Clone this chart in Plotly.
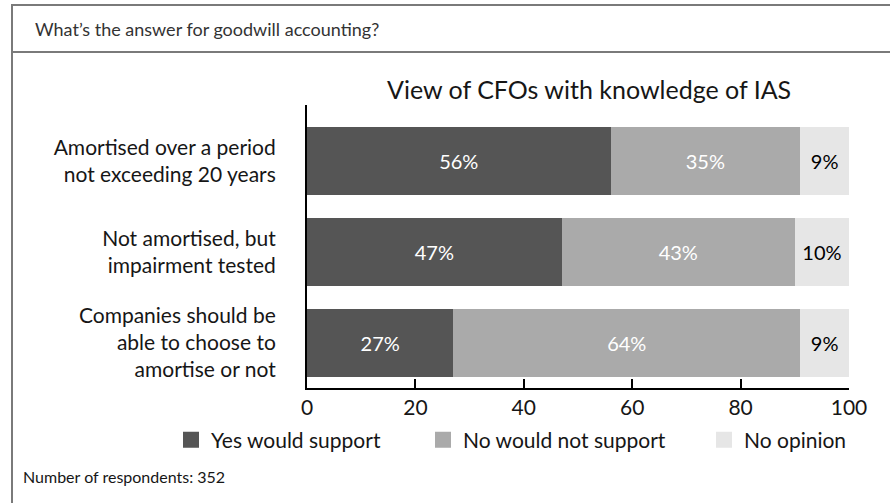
import plotly.graph_objects as go

# Survey answers, top to bottom
categories = [
    "Amortised over a period<br>not exceeding 20 years",
    "Not amortised, but<br>impairment tested",
    "Companies should be<br>able to choose to<br>amortise or not",
]
yes_support = [56, 47, 27]
no_support = [35, 43, 64]
no_opinion = [9, 10, 9]
series_names = ["Yes would support", "No would not support", "No opinion"]
x_ticks = [0, 20, 40, 60, 80, 100]

W, H = 890, 503
L, R, T, B = 307, 41, 105, 115
PW, PH = W - L - R, H - T - B


def px(x):
    return (x - L) / PW


def py(y):
    return 1 - (y - T) / PH


FONT = "Lato, 'Open Sans', sans-serif"
INK = "#161616"

fig = go.Figure()
colors = ["#555555", "#aaaaaa", "#e6e6e6"]
label_colors = ["white", "white", "black"]
legend_ids = ["legend", "legend2", "legend3"]
legend_x = [171, 423, 704]  # left edge of each legend box, in pixels

for name, vals, color, tcol, lid in zip(series_names, [yes_support, no_support, no_opinion],
                                        colors, label_colors, legend_ids):
    fig.add_trace(go.Bar(
        y=categories, x=vals, name=name, orientation="h",
        marker=dict(color=color, line=dict(width=0)),
        width=0.75,
        text=[f"{v}%" for v in vals],
        textposition="inside", insidetextanchor="middle",
        textfont=dict(color=tcol, size=20, family=FONT),
        constraintext="none",
        hoverinfo="skip", showlegend=False, legendgroup=name,
    ))
    # larger square key for the legend
    fig.add_trace(go.Scatter(
        x=[None], y=[None], mode="markers", name=name, legendgroup=name,
        marker=dict(symbol="square", size=16, color=color), legend=lid,
        hoverinfo="skip",
    ))

shapes = [
    # outer frame lines
    dict(type="line", xref="paper", yref="paper", x0=px(11), x1=px(W), y0=py(5), y1=py(5),
         line=dict(color="#7a7a7a", width=2)),
    dict(type="line", xref="paper", yref="paper", x0=px(11), x1=px(W), y0=py(52), y1=py(52),
         line=dict(color="#7a7a7a", width=2)),
    dict(type="line", xref="paper", yref="paper", x0=px(12), x1=px(12), y0=py(4), y1=py(H),
         line=dict(color="#7a7a7a", width=2)),
]

annotations = [
    dict(text="What\u2019s the answer for goodwill accounting?", xref="paper", yref="paper",
         x=px(33), y=py(29), xanchor="left", yanchor="middle", showarrow=False,
         font=dict(size=18, color="#333333", family=FONT)),
    dict(text="View of CFOs with knowledge of IAS", xref="paper", yref="paper",
         x=px(589), y=py(89), xanchor="center", yanchor="middle", showarrow=False,
         font=dict(size=25, color=INK, family=FONT)),
    dict(text="Number of respondents: 352", xref="paper", yref="paper",
         x=px(21), y=py(476), xanchor="left", yanchor="middle", showarrow=False,
         font=dict(size=16, color=INK, family=FONT)),
]

legend_style = dict(orientation="h", yanchor="middle", xanchor="left", y=py(440),
                    font=dict(size=21, family=FONT, color=INK), bgcolor="rgba(0,0,0,0)",
                    itemsizing="trace", itemclick=False, itemdoubleclick=False)

fig.update_layout(
    width=W, height=H,
    margin=dict(l=L, r=R, t=T, b=B, pad=0),
    paper_bgcolor="white", plot_bgcolor="white",
    barmode="stack",
    font=dict(family=FONT, size=20, color=INK),
    showlegend=True,
    legend=dict(x=px(legend_x[0]), **legend_style),
    legend2=dict(x=px(legend_x[1]), **legend_style),
    legend3=dict(x=px(legend_x[2]), **legend_style),
    shapes=shapes,
    annotations=annotations,
)
fig.update_xaxes(
    range=[0, 100], tickvals=x_ticks, ticktext=[str(v) for v in x_ticks],
    showgrid=False, zeroline=False,
    showline=True, linecolor="black", linewidth=2,
    ticks="inside", ticklen=9, tickwidth=2, tickcolor="black",
    tickfont=dict(size=21, family=FONT, color=INK),
)
fig.update_yaxes(
    categoryorder="array", categoryarray=categories,
    range=[2.5, -0.62],
    showgrid=False, zeroline=False,
    showline=True, linecolor="black", linewidth=2,
    ticks="", ticklabelstandoff=25,
    tickfont=dict(size=21, family=FONT, color=INK),
)

fig.write_html("out.html")
